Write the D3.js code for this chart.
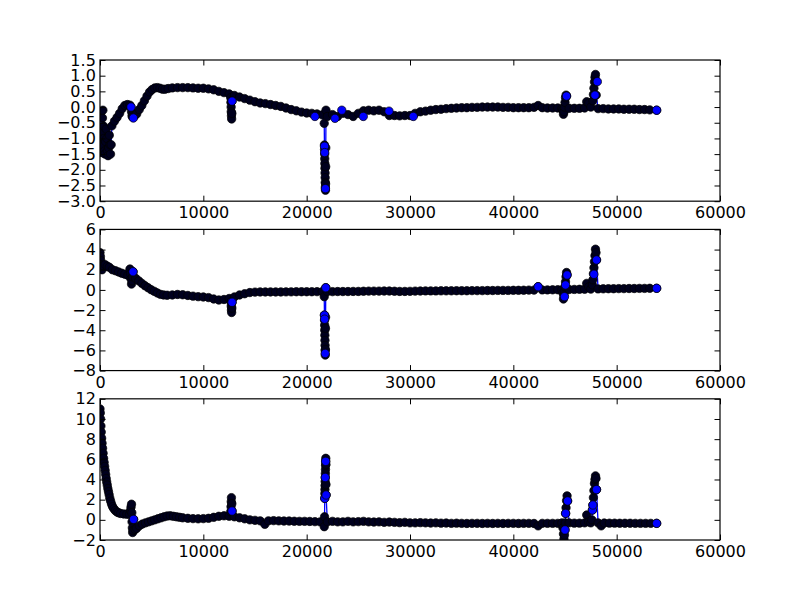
<!DOCTYPE html>
<html><head><meta charset="utf-8">
<script src="https://cdn.jsdelivr.net/npm/d3@7"></script>
<style>body{margin:0;background:#fff}</style>
</head><body>
<svg id="chart" width="800" height="600"></svg>
<script>
const xTicks = [0,10000,20000,30000,40000,50000,60000];
const panel1YTicks = [-3,-2.5,-2,-1.5,-1,-0.5,0,0.5,1,1.5];
const panel2YTicks = [-8,-6,-4,-2,0,2,4,6];
const panel3YTicks = [-2,0,2,4,6,8,10,12];

const panel1 = [
[0,-0.25],[40,-0.7],[80,-1.1],[120,-1.45],[160,-1.2],[200,-0.8],[240,-0.35],[280,-0.1],[330,-0.6],[380,-1.0],[430,-1.4],[480,-1.5],[540,-1.1],[600,-0.7],[660,-1.0],[720,-1.4],[780,-1.55],[840,-1.3],[900,-0.9],[960,-1.2],[1020,-1.5],[1080,-1.2],[1150,-0.6],[1400,-0.45],[1650,-0.33],[1900,-0.2],[2150,-0.05],[2400,0.05],[2650,0.08],[2900,0.06],[3000,0.0],[3050,-0.15],[3100,-0.28],[3150,-0.32],[3300,-0.3],[3550,-0.22],[3800,-0.08],[4050,0.05],[4300,0.2],[4550,0.35],[4800,0.48],[5050,0.56],[5300,0.61],[5550,0.62],[5800,0.6],[6050,0.57],[6300,0.57],[6600,0.59],[7000,0.61],[7500,0.62],[8000,0.62],[8500,0.62],[9000,0.61],[9500,0.6],[10000,0.6],[10500,0.58],[11000,0.55],[11500,0.5],[12000,0.46],[12500,0.42],
[12650,0.3],[12670,0.15],[12690,0.0],[12700,-0.15],[12720,-0.28],[12740,-0.38],[12760,-0.2],[12780,0.19],
[13000,0.37],[13500,0.32],[14000,0.27],[14500,0.22],[15000,0.17],[15500,0.13],[16000,0.11],[16500,0.08],[17000,0.05],[17500,0.02],[18000,-0.03],[18500,-0.08],[19000,-0.12],[19500,-0.16],[20000,-0.19],[20500,-0.2],[21000,-0.22],[21500,-0.25],
[21700,-0.52],[21720,-1.21],[21730,-1.35],[21740,-1.5],[21750,-1.65],[21760,-1.8],[21770,-1.95],[21780,-2.1],[21790,-2.25],[21800,-2.4],[21810,-2.55],[21820,-2.65],[21830,-2.45],[21840,-1.9],[21850,-1.3],[21870,-0.1],
[22000,-0.3],[22500,-0.24],[23000,-0.3],[23500,-0.2],[24000,-0.24],[24500,-0.3],[25000,-0.2],[25500,-0.12],[26000,-0.1],[26500,-0.12],[27000,-0.1],[27500,-0.15],[28000,-0.27],[28500,-0.27],[29000,-0.28],[29500,-0.27],[30000,-0.27],[30500,-0.2],[31000,-0.15],[31500,-0.13],[32000,-0.1],[32500,-0.08],[33000,-0.07],[33500,-0.05],[34000,-0.04],[34500,-0.03],[35000,-0.02],[35500,-0.02],[36000,-0.01],[36500,-0.01],[37000,0.0],[37500,0.0],[38000,0.0],[38500,0.0],[39000,-0.01],[39500,-0.01],[40000,-0.02],[40500,-0.02],[41000,-0.02],[41500,-0.02],[42000,-0.01],[42400,0.05],[42800,-0.02],[43300,-0.03],[43800,-0.03],[44300,-0.03],[44700,-0.05],
[44800,-0.1],[44850,-0.23],[44900,-0.15],[44950,0.0],[45000,0.15],[45050,0.3],[45100,0.38],[45150,0.35],
[45400,-0.04],[45900,-0.04],[46400,-0.04],[46900,-0.03],[47100,0.17],[47300,0.12],[47500,0.0],
[47700,0.2],[47750,0.4],[47800,0.6],[47850,0.8],[47900,0.95],[47950,1.04],[48000,0.81],[48020,0.38],
[48200,-0.05],[48700,-0.05],[49200,-0.06],[49700,-0.06],[50200,-0.06],[50700,-0.07],[51200,-0.07],[51700,-0.07],[52200,-0.08],[52700,-0.08],[53200,-0.09],[53870,-0.1]
];
const panel1Top = [[3000,0.0],[3230,-0.35],[12780,0.19],[20800,-0.3],[22740,-0.36],[23400,-0.1],[25480,-0.3],[27970,-0.13],[30320,-0.3],[21725,-1.25],[21745,-1.45],[21815,-2.6],[45150,0.35],[47900,0.38],[48130,0.81],[53870,-0.1]];

const panel2 = [
[0,3.7],[40,3.3],[80,2.9],[120,2.5],[160,2.2],[200,2.0],[300,2.4],[500,2.5],[700,2.35],[900,2.25],[1200,2.0],[1500,1.9],[1800,1.78],[2100,1.66],[2400,1.56],[2700,1.45],
[2900,2.07],[2950,1.6],[3000,1.1],[3050,0.58],[3100,0.9],[3150,1.3],[3200,1.8],
[3450,1.15],[3750,0.9],[4050,0.65],[4350,0.42],[4650,0.22],[4950,0.02],[5250,-0.14],[5550,-0.3],[5850,-0.44],[6150,-0.5],[6500,-0.53],[7000,-0.5],[7500,-0.45],[8000,-0.48],[8500,-0.55],[9000,-0.62],[9500,-0.67],[10000,-0.7],[10500,-0.76],[11000,-0.9],[11500,-1.0],[12000,-0.95],[12500,-0.85],
[12680,-1.2],[12700,-1.6],[12720,-2.0],[12740,-2.24],[12760,-1.8],[12780,-1.23],
[13000,-0.7],[13500,-0.5],[14000,-0.38],[14500,-0.26],[15000,-0.22],[15500,-0.2],[16000,-0.2],[16500,-0.2],[17000,-0.2],[17500,-0.2],[18000,-0.19],[18500,-0.19],[19000,-0.18],[19500,-0.18],[20000,-0.18],[20500,-0.18],[21000,-0.17],[21500,-0.17],
[21700,-0.67],[21720,-2.5],[21730,-3.0],[21740,-3.5],[21750,-4.0],[21760,-4.5],[21770,-5.0],[21780,-5.5],[21790,-6.0],[21800,-6.46],[21810,-5.9],[21820,-3.8],[21830,-2.7],[21850,0.22],
[22000,-0.17],[22500,-0.17],[23000,-0.16],[23500,-0.16],[24000,-0.16],[24500,-0.15],[25000,-0.15],[25500,-0.13],[26000,-0.12],[26500,-0.12],[27000,-0.12],[27500,-0.11],[28000,-0.11],[28500,-0.13],[29000,-0.15],[29500,-0.15],[30000,-0.14],[30500,-0.12],[31000,-0.11],[31500,-0.1],[32000,-0.1],[32500,-0.1],[33000,-0.09],[33500,-0.09],[34000,-0.09],[34500,-0.08],[35000,-0.08],[35500,-0.08],[36000,-0.07],[36500,-0.07],[37000,-0.07],[37500,-0.06],[38000,-0.06],[38500,-0.05],[39000,-0.05],[39500,-0.05],[40000,-0.04],[40500,-0.04],[41000,-0.03],[41500,-0.02],[42000,-0.02],[42400,0.32],[42800,0.0],[43300,0.0],[43800,0.01],[44300,0.02],[44700,0.0],
[44800,-0.3],[44850,-0.9],[44900,-0.6],[44950,-0.2],[45000,0.3],[45050,0.8],[45100,1.3],[45150,1.73],[45200,1.5],
[45400,0.04],[45900,0.05],[46400,0.06],[46900,0.07],[47100,0.65],[47300,0.3],[47500,0.08],
[47650,0.5],[47700,1.0],[47750,1.6],[47800,2.2],[47850,2.8],[47900,3.4],[47950,4.04],[48000,3.7],[48050,2.97],
[48200,0.1],[48700,0.11],[49200,0.12],[49700,0.12],[50200,0.13],[50700,0.13],[51200,0.14],[51700,0.14],[52200,0.15],[52700,0.15],[53200,0.16],[53870,0.16]
];
const panel2Top = [[3200,1.8],[12780,-1.23],[21720,-2.5],[21735,-2.9],[21795,-6.3],[21850,0.22],[42400,0.32],[44950,-0.67],[45050,0.49],[45200,1.48],[47800,1.55],[48050,2.97],[53870,0.16]];

const panel3 = [
[0,11.0],[30,10.6],[60,10.0],[90,9.3],[120,8.7],[160,8.1],[200,7.6],[250,7.1],[300,6.6],[350,6.1],[400,5.7],[450,5.3],[500,4.9],[550,4.5],[600,4.1],[650,3.75],[700,3.45],[760,3.1],[820,2.8],[880,2.5],[950,2.15],[1030,1.85],[1120,1.55],[1220,1.3],[1340,1.1],[1480,0.92],[1640,0.78],[1800,0.7],[2000,0.63],[2300,0.58],[2600,0.56],[2850,0.55],
[2950,0.9],[3000,1.25],[3050,1.55],[3080,0.7],[3100,-0.2],[3130,-0.8],[3160,-1.26],[3200,-1.05],[3250,0.05],
[3400,-0.95],[3550,-0.84],[3800,-0.6],[4100,-0.42],[4400,-0.3],[4700,-0.2],[5000,-0.1],[5300,0.0],[5600,0.1],[5900,0.2],[6200,0.3],[6500,0.38],[6800,0.4],[7100,0.35],[7400,0.3],[7700,0.25],[8000,0.2],[8500,0.15],[9000,0.12],[9500,0.1],[10000,0.12],[10500,0.15],[11000,0.25],[11500,0.35],[12000,0.4],[12500,0.36],
[12650,0.8],[12680,1.3],[12700,1.8],[12720,2.2],[12760,1.6],[12780,0.87],
[13000,0.3],[13500,0.2],[14000,0.1],[14500,0.0],[15000,-0.05],[15500,-0.1],[15950,-0.45],[16300,-0.1],[16800,-0.08],[17300,-0.1],[17800,-0.12],[18300,-0.12],[18800,-0.14],[19300,-0.15],[19800,-0.15],[20300,-0.16],[20800,-0.18],[21300,-0.2],
[21700,-0.68],[21730,0.3],[21750,2.13],[21760,2.6],[21770,3.0],[21780,3.4],[21790,3.8],[21800,4.2],[21810,4.6],[21820,5.0],[21830,5.4],[21840,5.8],[21850,6.1],[21860,5.5],[21870,3.5],[21880,2.46],
[22000,-0.2],[22500,-0.15],[23000,-0.2],[23500,-0.2],[24000,-0.15],[24500,-0.2],[25000,-0.18],[25500,-0.15],[26000,-0.2],[26500,-0.22],[27000,-0.2],[27500,-0.25],[28000,-0.22],[28500,-0.25],[29000,-0.28],[29500,-0.25],[30000,-0.3],[30500,-0.3],[31000,-0.28],[31500,-0.3],[32000,-0.32],[32500,-0.3],[33000,-0.33],[33500,-0.32],[34000,-0.35],[34500,-0.33],[35000,-0.35],[35500,-0.36],[36000,-0.35],[36500,-0.35],[37000,-0.36],[37500,-0.35],[38000,-0.36],[38500,-0.35],[39000,-0.36],[39500,-0.35],[40000,-0.35],[40500,-0.36],[41000,-0.35],[41500,-0.35],[42000,-0.36],[42400,-0.6],[42800,-0.35],[43300,-0.35],[43800,-0.35],[44300,-0.35],[44700,-0.3],
[44800,-0.8],[44850,-1.4],[44900,-1.9],[44950,-1.5],[45000,-1.0],[45030,-0.3],[45060,0.64],[45100,1.2],[45150,1.9],[45200,2.38],[45250,1.87],
[45400,-0.3],[45900,-0.33],[46400,-0.33],[46900,-0.3],[47100,0.48],[47300,-0.2],[47500,-0.3],
[47600,0.0],[47650,0.97],[47700,1.47],[47750,2.2],[47800,2.9],[47850,3.6],[47900,4.0],[47950,4.36],[48000,4.1],[48050,3.0],
[48200,-0.3],[48500,-0.6],[48800,-0.32],[49300,-0.33],[49800,-0.33],[50300,-0.34],[50800,-0.34],[51300,-0.34],[51800,-0.35],[52300,-0.35],[52800,-0.35],[53300,-0.35],[53870,-0.35]
];
const panel3Top = [[3250,0.05],[12780,0.87],[21750,2.13],[21800,4.2],[21840,5.8],[21880,2.46],[45000,-1.0],[45060,0.64],[45250,1.87],[47650,0.97],[47700,1.47],[48050,3.0],[53870,-0.35]];

const svg = d3.select("#chart");
svg.append("rect").attr("width",800).attr("height",600).attr("fill","#fff");

const L = 100, R = 720, T = 60, B = 540;
const ph = (B - T) / (3 + 2 * 0.2);
const gap = 0.2 * ph;
const fmtMinus = s => s.replace("-", "\u2212");

const panels = [
  {data: panel1, top: panel1Top, dom: [-3, 1.5], ticks: panel1YTicks, fmt: d => fmtMinus(d.toFixed(1))},
  {data: panel2, top: panel2Top, dom: [-8, 6], ticks: panel2YTicks, fmt: d => fmtMinus(String(d))},
  {data: panel3, top: panel3Top, dom: [-2, 12], ticks: panel3YTicks, fmt: d => fmtMinus(String(d))}
];

const x = d3.scaleLinear().domain([0, 60000]).range([L, R]);
const font = "DejaVu Sans";
const tickLen = 5.5;
const mr = 4.2;

panels.forEach((p, i) => {
  const y0 = T + i * (ph + gap);
  const y1 = y0 + ph;
  const y = d3.scaleLinear().domain(p.dom).range([y1, y0]);
  const cid = "clip" + i;
  svg.append("clipPath").attr("id", cid).append("rect")
    .attr("x", L).attr("y", y0).attr("width", R - L).attr("height", ph);
  const g = svg.append("g").attr("clip-path", `url(#${cid})`);
  const line = d3.line().x(d => x(d[0])).y(d => y(d[1]));
  g.append("path").datum(p.data).attr("d", line)
    .attr("fill", "none").attr("stroke", "#0000ff").attr("stroke-width", 1.3);
  g.selectAll("circle.m").data(p.data).enter().append("circle").attr("class","m")
    .attr("cx", d => x(d[0])).attr("cy", d => y(d[1])).attr("r", mr)
    .attr("fill", "#00001e").attr("stroke", "#000000").attr("stroke-width", 0.7);
  g.selectAll("circle.t").data(p.top).enter().append("circle").attr("class","t")
    .attr("cx", d => x(d[0])).attr("cy", d => y(d[1])).attr("r", mr)
    .attr("fill", "#0000ff").attr("stroke", "#000000").attr("stroke-width", 0.7);

  const ax = svg.append("g").attr("font-family", font);
  const bottom = ax.append("g").attr("transform", `translate(0,${y1})`)
    .call(d3.axisBottom(x).tickValues(xTicks).tickFormat(d3.format("d")).tickSizeInner(-tickLen).tickSizeOuter(0).tickPadding(5.6));
  const topAx = ax.append("g").attr("transform", `translate(0,${y0})`)
    .call(d3.axisTop(x).tickValues(xTicks).tickFormat("").tickSizeInner(-tickLen).tickSizeOuter(0));
  const leftAx = ax.append("g").attr("transform", `translate(${L},0)`)
    .call(d3.axisLeft(y).tickValues(p.ticks).tickFormat(p.fmt).tickSizeInner(-tickLen).tickSizeOuter(0).tickPadding(4.2));
  const rightAx = ax.append("g").attr("transform", `translate(${R},0)`)
    .call(d3.axisRight(y).tickValues(p.ticks).tickFormat("").tickSizeInner(-tickLen).tickSizeOuter(0));
  [bottom, topAx, leftAx, rightAx].forEach(a => {
    a.select(".domain").remove();
    a.selectAll(".tick line").attr("stroke", "#000").attr("stroke-width", 1);
    a.selectAll("text").attr("font-size", 16).attr("fill", "#000").attr("font-family", font);
  });
  svg.append("rect").attr("x", L).attr("y", y0).attr("width", R - L).attr("height", ph)
    .attr("fill", "none").attr("stroke", "#000").attr("stroke-width", 1.2);
});
</script>
</body></html>
